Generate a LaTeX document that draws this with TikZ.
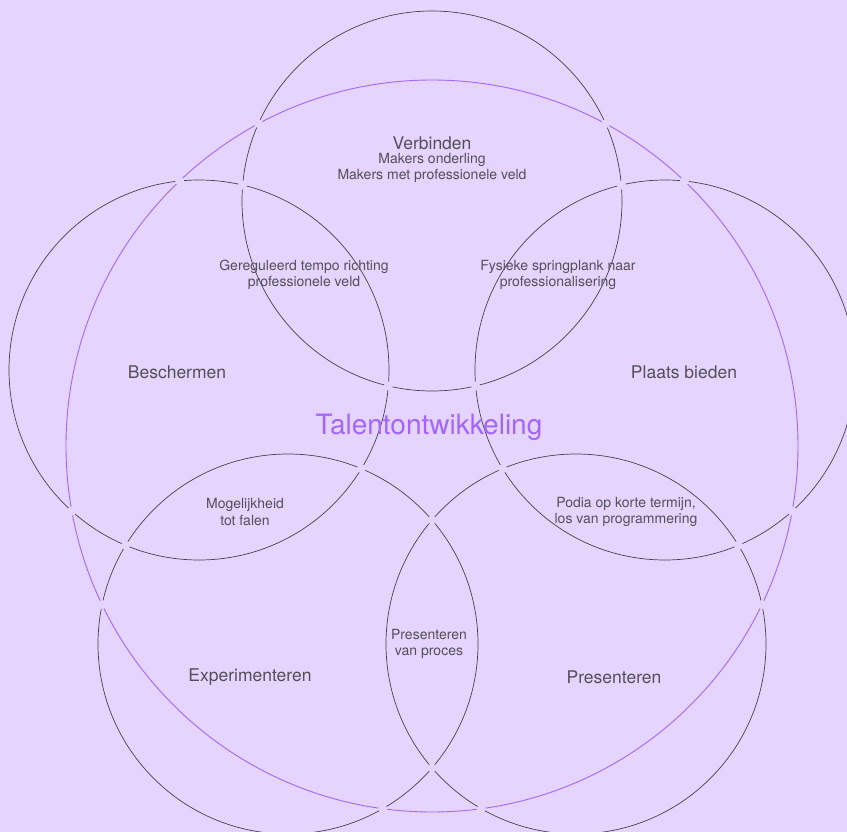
\documentclass[tikz,border=0pt]{standalone}
\usepackage{fontspec}
\setmainfont{TeX Gyre Heros}
\usetikzlibrary{intersections,positioning}

\begin{document}
\begin{tikzpicture}
	[x=1pt,y=-1pt,line cap=round,
	%Styles
	cirkel/.style={draw=lijn,line width=0.7pt},
	hoofdcirkel/.style={draw=paars,line width=0.9pt},
	gat/.style={fill=achtergrond},
	kop/.style={text=tekst,inner sep=0pt,font=\fontsize{17.5}{21}\selectfont},
	klein/.style={text=tekst,inner sep=0pt,align=center,font=\fontsize{14}{16.4}\selectfont},
	titel/.style={text=paars,inner sep=0pt,font=\fontsize{28}{33}\selectfont}
	]
	
	%Colors
	\definecolor{achtergrond}{HTML}{E5D4FD}
	\definecolor{lijn}{HTML}{45424A}
	\definecolor{paars}{HTML}{A466FA}
	\definecolor{tekst}{HTML}{534F58}
	
	\fill[achtergrond] (0,0) rectangle (847,832);
	\useasboundingbox (0,0) rectangle (847,832);
	
	%The circles
	\draw[cirkel,name path=boven] (432,201) circle (190pt);
	\draw[cirkel,name path=links] (199,370) circle (190pt);
	\draw[cirkel,name path=rechts] (665,370) circle (190pt);
	\draw[cirkel,name path=linksonder] (288,644) circle (190pt);
	\draw[cirkel,name path=rechtsonder] (576,644) circle (190pt);
	\draw[hoofdcirkel,name path=groot] (432,446) circle (366pt);
	
	%Gaps where lines cross
	\fill[gat,name intersections={of=boven and links,name=a}] (a-1) circle (4.5pt) (a-2) circle (4.5pt);
	\fill[gat,name intersections={of=boven and rechts,name=b}] (b-1) circle (4.5pt) (b-2) circle (4.5pt);
	\fill[gat,name intersections={of=links and linksonder,name=c}] (c-1) circle (4.5pt) (c-2) circle (4.5pt);
	\fill[gat,name intersections={of=rechts and rechtsonder,name=d}] (d-1) circle (4.5pt) (d-2) circle (4.5pt);
	\fill[gat,name intersections={of=linksonder and rechtsonder,name=e}] (e-1) circle (4.5pt) (e-2) circle (4.5pt);
	\fill[gat,name intersections={of=groot and boven,name=f}] (f-1) circle (4.5pt) (f-2) circle (4.5pt);
	\fill[gat,name intersections={of=groot and links,name=g}] (g-1) circle (4.5pt) (g-2) circle (4.5pt);
	\fill[gat,name intersections={of=groot and rechts,name=h}] (h-1) circle (4.5pt) (h-2) circle (4.5pt);
	\fill[gat,name intersections={of=groot and linksonder,name=i}] (i-1) circle (4.5pt) (i-2) circle (4.5pt);
	\fill[gat,name intersections={of=groot and rechtsonder,name=j}] (j-1) circle (4.5pt) (j-2) circle (4.5pt);
	
	%Labels
	\node[kop] (verbinden) at (432,143) {Verbinden};
	\node[klein] (verbindentekst) at (432,168) {Makers onderling\\Makers met professionele veld};
	\node[kop] (beschermen) at (177,372.5) {Beschermen};
	\node[kop] (plaatsbieden) at (684,372.5) {Plaats bieden};
	\node[kop] (experimenteren) at (250,677) {Experimenteren};
	\node[kop] (presenteren) at (614,677) {Presenteren};
	\node[titel] (talent) at (429,427.5) {Talentontwikkeling};
	
	\node[klein] (tempo) at (304,275) {Gereguleerd tempo richting\\professionele veld};
	\node[klein] (springplank) at (558,275) {Fysieke springplank naar\\professionalisering};
	\node[klein] (falen) at (245,512) {Mogelijkheid\\tot falen};
	\node[klein] (podia) at (626,512) {Podia op korte termijn,\\los van programmering};
	\node[klein] (proces) at (429,644) {Presenteren\\van proces};
\end{tikzpicture}
\end{document}
